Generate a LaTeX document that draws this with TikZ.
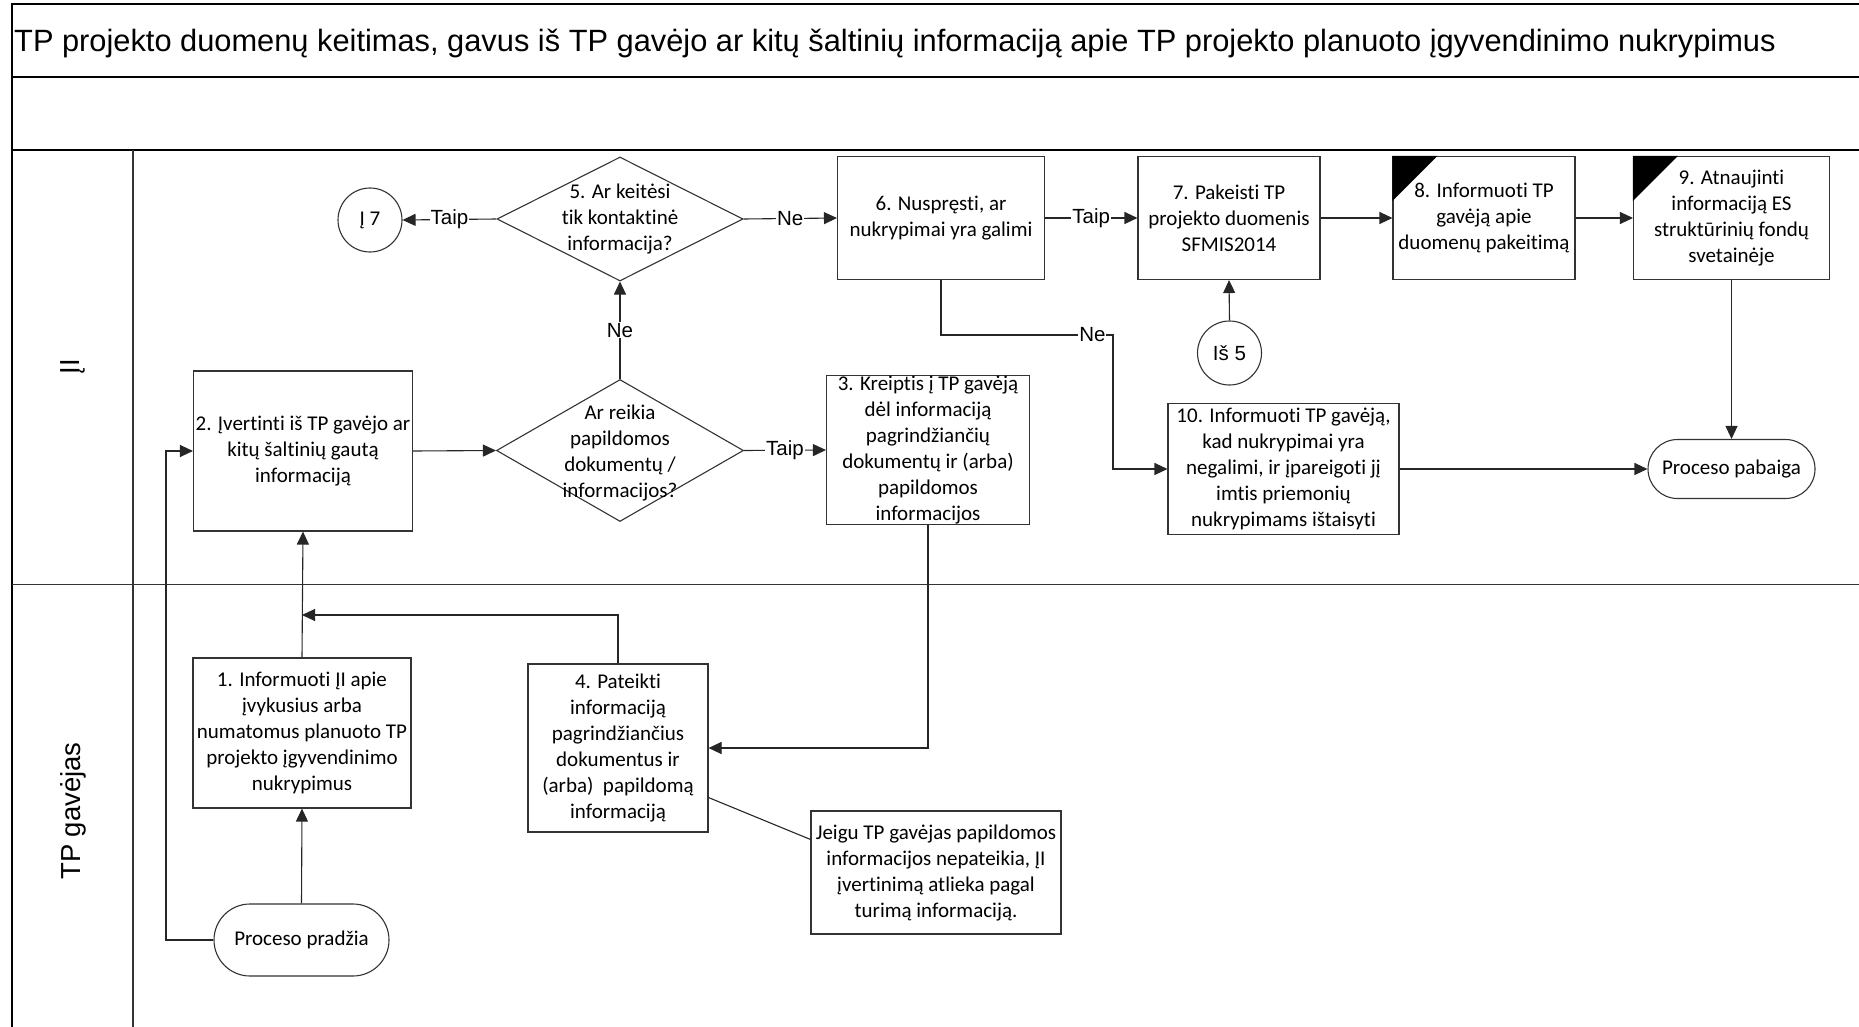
\documentclass[tikz,border=0pt]{standalone}
\usepackage{fontspec}
\setmainfont{Liberation Sans}
\newfontfamily\carl[Ligatures=NoCommon]{Carlito}
\usetikzlibrary{arrows.meta,shapes.geometric,shapes.misc,calc}
\newcommand\boxfont{\carl\fontsize{21}{26}\selectfont}
\newcommand\lblfont{\fontsize{20.5}{24}\selectfont}
\begin{document}
\begin{tikzpicture}[x=1pt,y=-1pt,
  frame/.style={draw=black,line width=2pt},
  thinframe/.style={draw=black!80,line width=1.3pt},
  line/.style={draw=black!85,line width=1.1pt},
  arr/.style={line,-{Triangle[length=13pt,width=12pt]}},
  box/.style={draw=black!80,line width=1.1pt,fill=white,font=\boxfont,align=center,inner sep=0pt},
  dia/.style={diamond,draw=black!80,line width=1.1pt,fill=white,inner sep=0pt},
  dtext/.style={font=\boxfont,align=center,inner sep=0pt},
  circ/.style={circle,draw=black!80,line width=1.1pt,fill=white,minimum size=64pt,inner sep=0pt},
  term/.style={rounded rectangle,draw=black!80,line width=1.1pt,fill=white,font=\boxfont,inner sep=0pt},
  lbl/.style={fill=white,font=\lblfont,inner sep=1pt},
  lane/.style={font=\fontsize{27.5}{32}\selectfont,rotate=90}
]
\useasboundingbox (0,0) rectangle (1859,1027);
% frame
\draw[frame] (1859,4) -- (12,4) -- (12,1027);
\draw[frame] (12,77) -- (1859,77);
\draw[frame] (12,150) -- (1859,150);
\draw[thinframe] (12,584.5) -- (1859,584.5);
\draw[thinframe] (133,150) -- (133,1027);
\node[anchor=west,font=\fontsize{30.8}{36}\selectfont,inner sep=0pt] (title) at (14,43.5)
  {TP projekto duomenų keitimas, gavus iš TP gavėjo ar kitų šaltinių informaciją apie TP projekto planuoto įgyvendinimo nukrypimus};
\node[lane] (l1) at (73,367) {ĮI};
\node[lane] (l2) at (73,811) {TP gavėjas};

% nodes
\node[box,minimum width=218,minimum height=150] (b1) at (302,733)
  {1. Informuoti ĮI apie\\įvykusius arba\\numatomus planuoto TP\\projekto įgyvendinimo\\nukrypimus};
\node[box,minimum width=219,minimum height=160] (b2) at (303,451)
  {2. Įvertinti iš TP gavėjo ar\\kitų šaltinių gautą\\informaciją};
\node[dia,minimum width=247,minimum height=142] (d1) at (620,450.5) {};
\node[dtext] (d1t) at (620,453) {Ar reikia\\papildomos\\dokumentų /\\informacijos?};
\node[box,minimum width=203,minimum height=146] (b3) at (928,450)
  {3. Kreiptis į TP gavėją\\dėl informaciją\\pagrindžiančių\\dokumentų ir (arba)\\papildomos\\informacijos};
\node[box,minimum width=180,minimum height=168] (b4) at (618,748)
  {4. Pateikti\\informaciją\\pagrindžiančius\\dokumentus ir\\(arba)\ \ papildomą\\informaciją};
\node[dia,minimum width=246,minimum height=124] (d5) at (620,219) {};
\node[dtext] (d5t) at (620,219) {5. Ar keitėsi\\tik kontaktinė\\informacija?};
\node[circ,font=\boxfont] (c7) at (370,220) {Į 7};
\node[box,minimum width=207,minimum height=123] (b6) at (941,218)
  {6. Nuspręsti, ar\\nukrypimai yra galimi};
\node[box,minimum width=182,minimum height=123] (b7) at (1229,218)
  {7. Pakeisti TP\\projekto duomenis\\SFMIS2014};
\node[box,minimum width=182,minimum height=123] (b8) at (1484,218)
  {8. Informuoti TP\\gavėją apie\\duomenų pakeitimą};
\node[box,minimum width=196,minimum height=123] (b9) at (1731.5,218)
  {9. Atnaujinti\\informaciją ES\\struktūrinių fondų\\svetainėje};
\fill[black] (b8.north west) -- ++(45,0) -- ++(-45,45) -- cycle;
\fill[black] (b9.north west) -- ++(45,0) -- ++(-45,45) -- cycle;
\node[circ,font=\lblfont] (c5) at (1229.5,353) {Iš 5};
\node[box,minimum width=231,minimum height=131] (b10) at (1283.5,469)
  {10. Informuoti TP gavėją,\\kad nukrypimai yra\\negalimi, ir įpareigoti jį\\imtis priemonių\\nukrypimams ištaisyti};
\node[term,minimum width=167,minimum height=59] (pb) at (1731.5,469) {Proceso pabaiga};
\node[term,minimum width=175,minimum height=72] (pr) at (301.5,940) {Proceso pradžia};
\node[box,minimum width=250,minimum height=123] (nt) at (936,872.5)
  {Jeigu TP gavėjas papildomos\\informacijos nepateikia, ĮI\\įvertinimą atlieka pagal\\turimą informaciją.};

% connectors
\coordinate (lp) at (166,940);
\coordinate (j1) at (302,615);
\coordinate (nc) at (1113,335);
\draw[arr] (pr.north) -- (b1.south);
\draw[arr] (pr.west) -- (lp) |- (b2.west);
\draw[arr] (b1.north) -- (b2.south);
\draw[arr] (b4.north) |- (j1);
\draw[arr] (b2.east) -- (d1.west);
\draw[arr] (d1.east) -- node[lbl] (t1) {Taip} (b3.west);
\draw[arr] (d1.north) -- node[lbl] (n1) {Ne} (d5.south);
\draw[arr] (d5.west) -- node[lbl] (t2) {Taip} (c7.east);
\draw[arr] (d5.east) -- node[lbl] (n2) {Ne} (b6.west);
\draw[arr] (b6.east) -- node[lbl] (t3) {Taip} (b7.west);
\draw[arr] (b7.east) -- (b8.west);
\draw[arr] (b8.east) -- (b9.west);
\draw[arr] (b9.south) -- (pb.north);
\draw[arr] (b10.east) -- (pb.west);
\draw[arr] (c5.north) -- (b7.south);
\draw[arr] (b6.south) |- node[lbl,pos=0.94] (n3) {Ne} (nc) |- (b10.west);
\draw[arr] (b3.south) |- (b4.east);
\draw[line] ($(b4.south east)+(0,-35)$) -- ($(nt.north west)+(0,29)$);
\end{tikzpicture}
\end{document}
